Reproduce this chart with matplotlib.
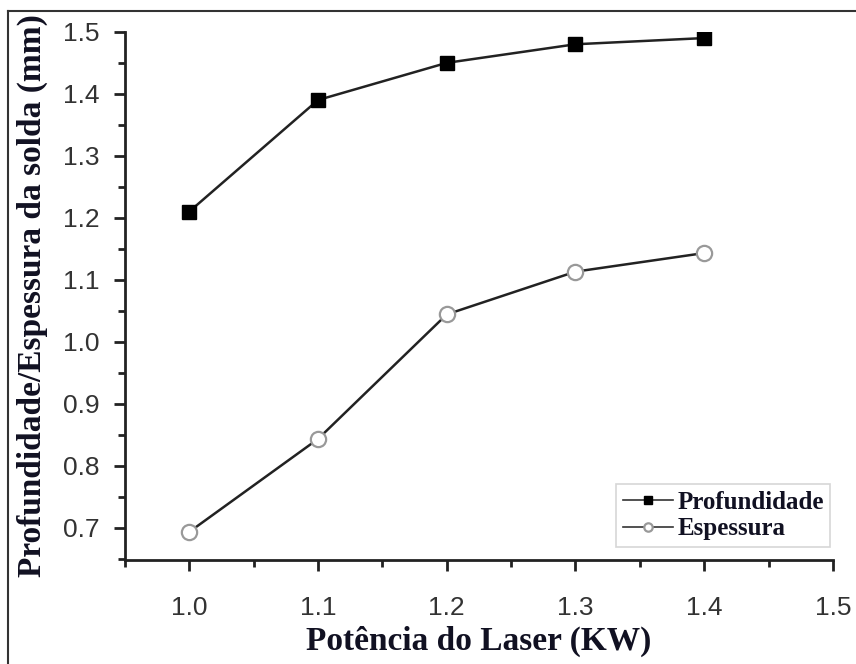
import matplotlib
matplotlib.use("Agg")
import matplotlib.pyplot as plt
from matplotlib.lines import Line2D
from matplotlib.ticker import MultipleLocator, FormatStrFormatter

potencia = [1.0, 1.1, 1.2, 1.3, 1.4]
profundidade = [1.21, 1.39, 1.45, 1.48, 1.49]
espessura = [0.693, 0.843, 1.044, 1.113, 1.143]

fig = plt.figure(figsize=(8.56, 6.64), dpi=100)
ax = fig.add_axes([0.146, 0.157, 0.827, 0.795])

ax.plot(potencia, profundidade, color='#222222', lw=1.8, marker='s', ms=10,
        mfc='black', mec='black', label='Profundidade')
ax.plot(potencia, espessura, color='#222222', lw=1.8, marker='o', ms=11,
        mfc='white', mec='#999999', mew=1.6, label='Espessura')

ax.set_xlim(0.95, 1.5)
ax.set_ylim(0.648, 1.5)
ax.set_xticks([1.0, 1.1, 1.2, 1.3, 1.4, 1.5])
ax.set_yticks([0.7, 0.8, 0.9, 1.0, 1.1, 1.2, 1.3, 1.4, 1.5])
ax.xaxis.set_minor_locator(MultipleLocator(0.05))
ax.yaxis.set_minor_locator(MultipleLocator(0.05))
ax.xaxis.set_major_formatter(FormatStrFormatter('%.1f'))
ax.yaxis.set_major_formatter(FormatStrFormatter('%.1f'))

for s in ['top', 'right']:
    ax.spines[s].set_visible(False)
for s in ['left', 'bottom']:
    ax.spines[s].set_linewidth(2.0)
    ax.spines[s].set_color('#222222')

ax.tick_params(which='major', direction='out', length=8, width=2, color='#222222',
               labelsize=19, labelcolor='#333333')
ax.tick_params(axis='x', which='major', pad=18)
ax.tick_params(axis='y', which='major', pad=10)
ax.tick_params(which='minor', direction='out', length=5, width=2, color='#222222')
for lab in ax.get_xticklabels() + ax.get_yticklabels():
    lab.set_family('Liberation Sans')

ax.set_xlabel('Potência do Laser (KW)', family='Liberation Serif', fontweight='bold',
              fontsize=24, color='#111122', labelpad=4)
ax.set_ylabel('Profundidade/Espessura da solda (mm)', family='Liberation Serif',
              fontweight='bold', fontsize=24, color='#111122', labelpad=11)

leg = ax.legend(loc='lower right', bbox_to_anchor=(1.0, 0.02), frameon=True,
                fancybox=False, edgecolor='#cccccc', markerscale=0.55,
                handlelength=2.0, handletextpad=0.2, borderpad=0.25, labelspacing=0.15,
                borderaxespad=0.1,
                prop={'family': 'Liberation Serif', 'weight': 'bold', 'size': 18})
leg.get_frame().set_linewidth(1.2)
for t in leg.get_texts():
    t.set_color('#111122')
for h in leg.legend_handles:
    h.set_linewidth(1.2)
    h.set_color('#333333')

fig.add_artist(Line2D([8/856, 8/856], [0, 1 - 11/664], color='#333333', lw=1.5,
                      transform=fig.transFigure))
fig.add_artist(Line2D([8/856, 1], [1 - 11/664, 1 - 11/664], color='#333333', lw=1.5,
                      transform=fig.transFigure))

fig.savefig('out.png', dpi=100)
